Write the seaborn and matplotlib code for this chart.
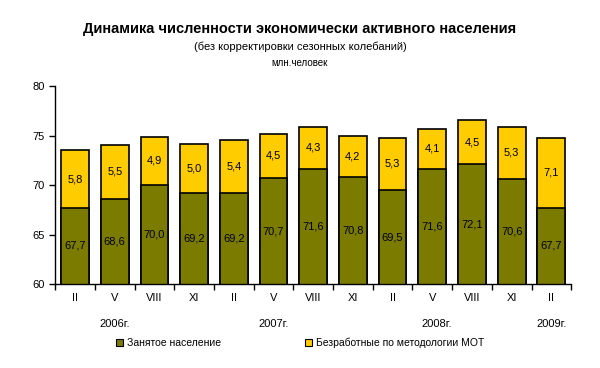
import numpy as np
import pandas as pd
import matplotlib
matplotlib.use("Agg")
import matplotlib.pyplot as plt
import seaborn as sns
from matplotlib.patches import Patch

sns.set_theme(style="white")
plt.rcParams['font.family'] = ['Liberation Sans', 'DejaVu Sans']
plt.rcParams['text.color'] = 'black'
plt.rcParams['ytick.color'] = 'black'
plt.rcParams['xtick.color'] = 'black'

# данные
months = ["II", "V", "VIII", "XI", "II", "V", "VIII", "XI", "II", "V", "VIII", "XI", "II"]
employed = [67.7, 68.6, 70.0, 69.2, 69.2, 70.7, 71.6, 70.8, 69.5, 71.6, 72.1, 70.6, 67.7]
unemployed = [5.8, 5.5, 4.9, 5.0, 5.4, 4.5, 4.3, 4.2, 5.3, 4.1, 4.5, 5.3, 7.1]
years = ["2006г.", "2007г.", "2008г.", "2009г."]
year_pos = [1, 5, 9.1, 12]

df = pd.DataFrame({
    "idx": range(len(months)),
    "employed": employed,
    "total": np.array(employed) + np.array(unemployed),
})

green = "#7b7b00"
yellow = "#ffcc00"

fig = plt.figure(figsize=(6, 3.68), dpi=100)
ax = fig.add_axes([0.092, 0.228, 0.86, 0.538])

sns.barplot(data=df, x="idx", y="total", color=yellow, saturation=1,
            edgecolor="black", linewidth=1.2, width=0.7, ax=ax)
sns.barplot(data=df, x="idx", y="employed", color=green, saturation=1,
            edgecolor="black", linewidth=1.2, width=0.7, ax=ax)

ax.set_ylim(60, 80)
ax.set_xlim(-0.5, len(months) - 0.5)
ax.set_yticks([60, 65, 70, 75, 80])
ax.set_xticks(np.arange(len(months) + 1) - 0.5)
ax.set_xticklabels([])
ax.set_xlabel("")
ax.set_ylabel("")
for s in ["top", "right"]:
    ax.spines[s].set_visible(False)
for s in ["left", "bottom"]:
    ax.spines[s].set_color("black")
    ax.spines[s].set_linewidth(1)
ax.tick_params(axis="both", direction="out", length=4, width=1, color="black",
               bottom=True, left=True, labelsize=8)

# подписи значений
for i, (e, u) in enumerate(zip(employed, unemployed)):
    ax.text(i, (60 + e) / 2, f"{e:.1f}".replace(".", ","), ha="center", va="center",
            fontsize=8, color="black")
    ax.text(i, e + u / 2, f"{u:.1f}".replace(".", ","), ha="center", va="center",
            fontsize=8, color="black")

# месяцы и годы
trans = ax.get_xaxis_transform()
for i, m in enumerate(months):
    ax.text(i, -0.07, m, transform=trans, ha="center", va="center", fontsize=8)
for p, y in zip(year_pos, years):
    ax.text(p, -0.2, y, transform=trans, ha="center", va="center", fontsize=8)

fig.text(0.5, 0.92, "Динамика численности экономически активного населения",
         ha="center", va="center", fontsize=10.5, fontweight="bold")
fig.text(0.5, 0.872, "(без корректировки сезонных колебаний)",
         ha="center", va="center", fontsize=8)
fig.text(0.5, 0.83, "млн.человек", ha="center", va="center", fontsize=7)

handles = [Patch(facecolor=green, edgecolor="black", linewidth=0.8),
           Patch(facecolor=yellow, edgecolor="black", linewidth=0.8)]
fig.legend(handles, ["Занятое население", "Безработные по методологии МОТ"],
           loc="center", bbox_to_anchor=(0.5, 0.068), ncol=2, frameon=False,
           fontsize=7.5, handlelength=0.7, handleheight=0.7, handletextpad=0.4,
           columnspacing=8)

fig.savefig("out.png", dpi=100)
